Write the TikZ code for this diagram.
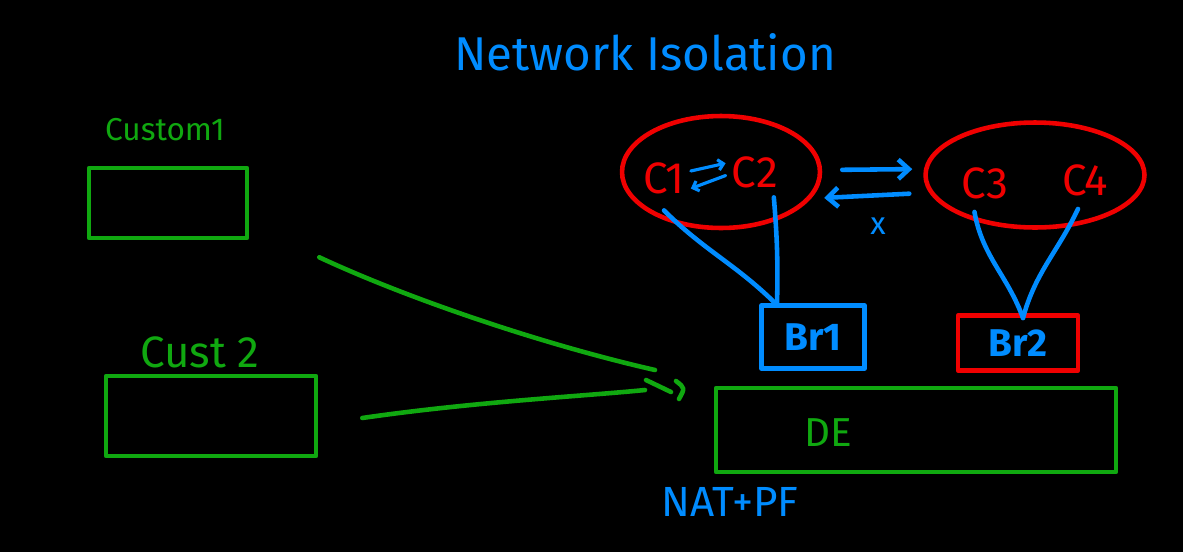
\documentclass[tikz,border=0pt]{standalone}
\usepackage{fontspec}
\setmainfont{Fira Sans}
\usetikzlibrary{shapes.geometric,arrows.meta}
\definecolor{inkgreen}{RGB}{16,168,16}
\definecolor{inkred}{RGB}{240,0,0}
\definecolor{inkblue}{RGB}{0,140,255}
\tikzset{
  greenbox/.style={draw=inkgreen,line width=2.6pt,inner sep=0pt},
  bridgebox/.style={line width=2.6pt,inner sep=0pt,text=inkblue,font=\bfseries\fontsize{22}{24}\selectfont},
  cloud/.style={ellipse,draw=inkred,line width=2.6pt,inner sep=0pt},
  ctr/.style={text=inkred,font=\fontsize{25}{27}\selectfont},
  wire/.style={draw=inkgreen,line width=2.6pt},
  link/.style={draw=inkblue,line width=2.6pt},
  flow/.style={draw=inkblue,line width=2.6pt,-{Straight Barb[length=6pt,width=11pt]}}
}
\begin{document}
\begin{tikzpicture}[x=0.02cm,y=-0.02cm,line cap=round,line join=round]
\fill[black] (0,0) rectangle (1183,552);
\node[text=inkblue,font=\fontsize{27}{30}\selectfont] (title) at (645,52) {Network Isolation};
\node[text=inkgreen,font=\fontsize{18}{20}\selectfont] (cust1) at (165,130) {Custom1};
\node[greenbox,minimum width=3.16cm,minimum height=1.4cm] (cust1box) at (168,203) {};
\node[text=inkgreen,font=\fontsize{25}{27}\selectfont] (cust2) at (200,352) {Cust 2};
\node[greenbox,minimum width=4.2cm,minimum height=1.6cm] (cust2box) at (211,416) {};
\node[greenbox,minimum width=8cm,minimum height=1.68cm] (de) at (916,430) {};
\node[text=inkgreen,font=\fontsize{23}{25}\selectfont] (delabel) at (828,433) {DE};
\node[text=inkblue,font=\fontsize{24}{26}\selectfont] (nat) at (730,502) {NAT+PF};
\node[cloud,minimum width=3.96cm,minimum height=2.24cm] (cloud1) at (721,172) {};
\node[cloud,minimum width=4.38cm,minimum height=2.1cm] (cloud2) at (1035,175) {};
\node[ctr] (c1) at (664,178) {C1};
\node[ctr] (c2) at (755,172) {C2};
\node[ctr] (c3) at (985,183) {C3};
\node[ctr] (c4) at (1085,180) {C4};
\node[bridgebox,draw=inkblue,minimum width=2.06cm,minimum height=1.26cm] (br1) at (813,337) {Br1};
\node[bridgebox,draw=inkred,minimum width=2.4cm,minimum height=1.1cm] (br2) at (1018,343) {Br2};
\node[text=inkblue,font=\fontsize{18}{20}\selectfont] (cross) at (878,226) {x};
\coordinate (br1top) at (777,305);
\coordinate (br2top) at (1023,318);
\coordinate (end1) at (655,370);
\coordinate (end2) at (645,390);

\draw[flow,line width=1.8pt,-{Straight Barb[length=3pt,width=6pt]}] ([yshift=4pt]c1.east) -- ([yshift=5pt]c2.west);
\draw[flow,line width=1.8pt,-{Straight Barb[length=3pt,width=6pt]}] ([yshift=-2pt]c2.west) -- ([yshift=-6pt]c1.east);
\draw[flow,shorten <=0.4cm,shorten >=0.22cm] ([yshift=0.04cm]cloud1.east) -- ([yshift=0.12cm]cloud2.west);
\draw[flow,shorten <=0.28cm,shorten >=0.04cm] ([yshift=-0.36cm]cloud2.west) -- ([yshift=-0.52cm]cloud1.east);
\draw[link] ([yshift=-6pt]c1.south) to[out=-45,in=135] (br1top);
\draw[link] ([xshift=-6pt,yshift=-2pt]c2.south east) to[bend left=3] (br1top);
\draw[link] ([xshift=-6pt,yshift=-4pt]c3.south) to[out=-80,in=110] (br2top);
\draw[link] ([xshift=-4pt,yshift=-4pt]c4.south) to[out=-115,in=75] (br2top);
\draw[wire] ([shift={(70,17)}]cust1box.south east) .. controls +(90,42) and +(-110,-25) .. (end1);
\draw[wire] ([shift={(44,2)}]cust2box.east) .. controls +(110,-16) and +(-60,6) .. (end2);
\draw[wire] (646,380) -- (671,392);
\draw[wire] (676,381) .. controls (685,388) .. (679,399);
\end{tikzpicture}
\end{document}
